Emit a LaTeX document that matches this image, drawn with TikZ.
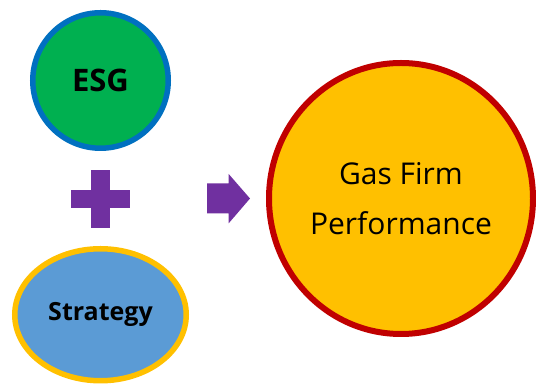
\documentclass[tikz,border=0pt]{standalone}
\usepackage{fontspec}
\setmainfont{Open Sans}
\usetikzlibrary{positioning, shapes.geometric}
\definecolor{esggreen}{HTML}{00B050}
\definecolor{esgblue}{HTML}{0070C0}
\definecolor{plumfill}{HTML}{7030A0}
\definecolor{stratblue}{HTML}{5B9BD5}
\definecolor{goldring}{HTML}{FFC000}
\definecolor{firmred}{HTML}{C00000}
\newcommand{\ringwidth}{5.5pt}
\newcommand{\bigtext}{\fontsize{30}{50}\selectfont}

\begin{document}
\begin{tikzpicture}[x=1pt, y=1pt,
    bubble/.style={inner sep=0pt, line width=\ringwidth, align=center}]
            \useasboundingbox (0,0) rectangle (536,385);
            \node[bubble, circle, fill=esggreen, draw=esgblue, minimum size=135.5pt,
            font=\fontsize{31}{36}\selectfont\bfseries]
            (esg) at (100.5,304.5) {ESG};
            \node[bubble, ellipse, fill=stratblue, draw=goldring,
            minimum width=171.5pt, minimum height=132pt,
            font=\fontsize{25}{30}\selectfont\bfseries]
            (strategy) at (100.5,70.25) {Strategy};
            \node[bubble, ellipse, fill=goldring, draw=firmred, line width=6pt,
            minimum width=264pt, minimum height=271pt, font=\bigtext]
            (firm) at (401,186.5) {Gas Firm\\ Performance};
            % plus sign
            \fill[plumfill] (71,176.75) rectangle (129.5,195.25);
            \fill[plumfill] (90.5,157.3) rectangle (109.5,215);
            % arrow
            \fill[plumfill] (207,171.7) -- (228.7,171.7) -- (228.7,161.7)
            -- (250,186.5) -- (228.7,211) -- (228.7,201.7) -- (207,201.7) -- cycle;
        \end{tikzpicture}
\end{document}
